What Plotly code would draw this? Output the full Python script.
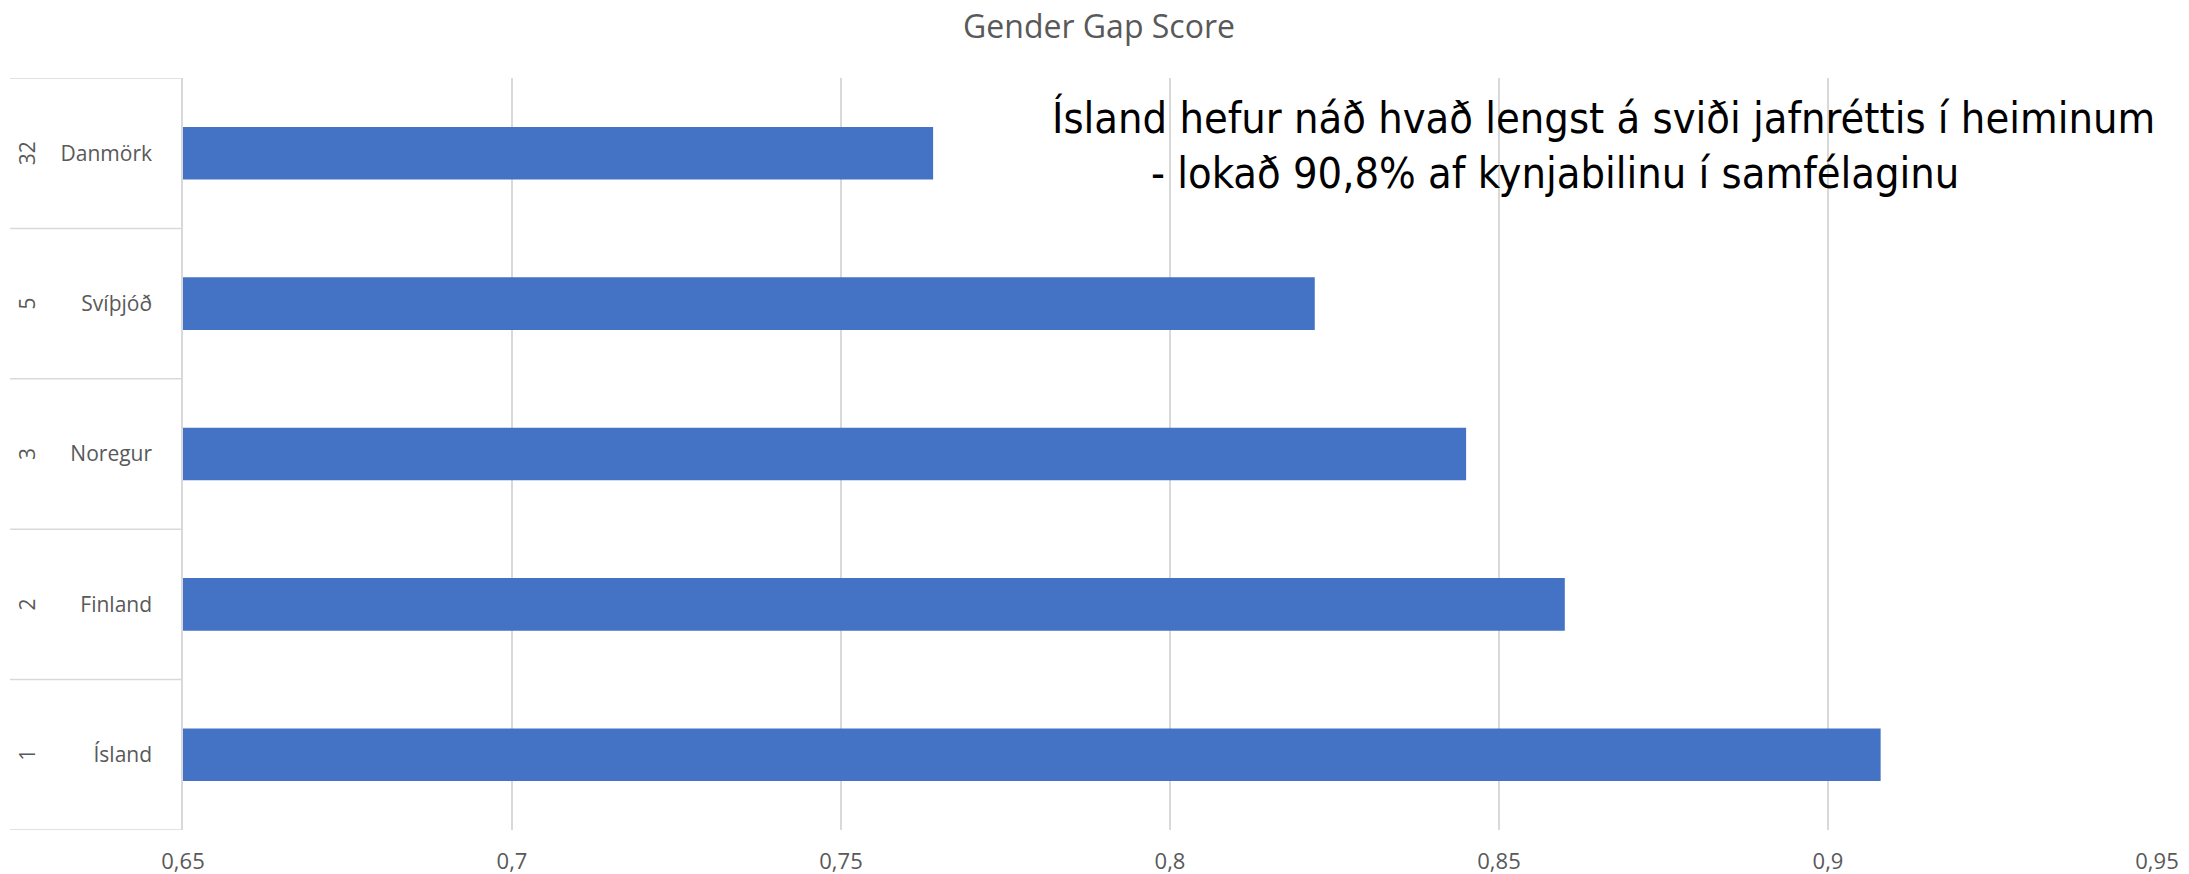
import plotly.graph_objects as go

countries = ["Ísland", "Finland", "Noregur", "Svíþjóð", "Danmörk"]
ranks = ["1", "2", "3", "5", "32"]
scores = [0.908, 0.860, 0.845, 0.822, 0.764]
x_ticks = [0.65, 0.7, 0.75, 0.8, 0.85, 0.9, 0.95]
x_tick_labels = ["0,65", "0,7", "0,75", "0,8", "0,85", "0,9", "0,95"]
title_text = "Gender Gap Score"
note_line1 = "Ísland hefur náð hvað lengst á sviði jafnréttis í heiminum"
note_line2 = "- lokað 90,8% af kynjabilinu í samfélaginu"

GRAY = "#595959"
GRID = "#d9d9d9"
FONT = "Open Sans, Noto Sans, sans-serif"
NOTE_FONT = "Liberation Sans Narrow, DejaVu Sans Condensed, sans-serif"

fig = go.Figure(
    go.Bar(
        x=scores,
        y=countries,
        orientation="h",
        marker=dict(color="#4472C4", line=dict(width=0)),
        hoverinfo="x+y",
    )
)

# the page body has an 8px default margin; work in page pixels and convert
OFF = 8
W, H = 2189 - OFF, 874 - OFF
plot_left, plot_right, plot_top, plot_bottom = 183, 2157, 78, 830
ml = plot_left - OFF
mt = plot_top - OFF
mr = (W + OFF) - plot_right
mb = (H + OFF) - plot_bottom
pw = W - ml - mr
ph = H - mt - mb


def px(xpage):
    return (xpage - OFF - ml) / pw


def py(ypage):
    return 1 - (ypage - OFF - mt) / ph


shapes = []
n = len(countries)
for k in range(n + 1):
    shapes.append(dict(type="line", xref="paper", yref="y",
                       x0=px(10), x1=0, y0=k - 0.5, y1=k - 0.5,
                       line=dict(color=GRID, width=1.5)))

annotations = []
for i, r in enumerate(ranks):
    annotations.append(dict(xref="paper", yref="y", x=px(27), y=i,
                            text=r, showarrow=False, textangle=-90,
                            font=dict(family=FONT, size=21, color=GRAY),
                            xanchor="center", yanchor="middle"))
annotations.append(dict(xref="paper", yref="paper", x=px(1050),
                        y=py(118), text=note_line1,
                        showarrow=False, xanchor="left", yanchor="middle",
                        font=dict(family=NOTE_FONT, size=43, color="#000000")))
annotations.append(dict(xref="paper", yref="paper", x=px(1149),
                        y=py(173), text=note_line2,
                        showarrow=False, xanchor="left", yanchor="middle",
                        font=dict(family=NOTE_FONT, size=43, color="#000000")))

fig.update_layout(
    width=W, height=H,
    margin=dict(l=ml, r=mr, t=mt, b=mb),
    paper_bgcolor="white", plot_bgcolor="white",
    title=dict(text=title_text, x=(1099 - OFF) / W, xanchor="center",
               y=1 - (27 - OFF) / H, yanchor="middle",
               font=dict(family=FONT, size=32, color=GRAY)),
    bargap=0.65,
    showlegend=False,
    shapes=shapes,
    annotations=annotations,
    font=dict(family=FONT, color=GRAY),
)
fig.update_xaxes(range=[0.65, 0.95], tickvals=x_ticks, ticktext=x_tick_labels,
                 showgrid=True, gridcolor=GRID, gridwidth=1.5, zeroline=False,
                 showline=False, ticks="", automargin=False,
                 ticklabelstandoff=16,
                 tickfont=dict(family=FONT, size=22, color=GRAY))
fig.update_yaxes(range=[-0.5, n - 0.5], showgrid=False, zeroline=False,
                 showline=True, linecolor=GRID, linewidth=1.5, ticks="",
                 automargin=False, ticklabelstandoff=25,
                 tickfont=dict(family=FONT, size=21, color=GRAY))

fig.write_html("out.html")
